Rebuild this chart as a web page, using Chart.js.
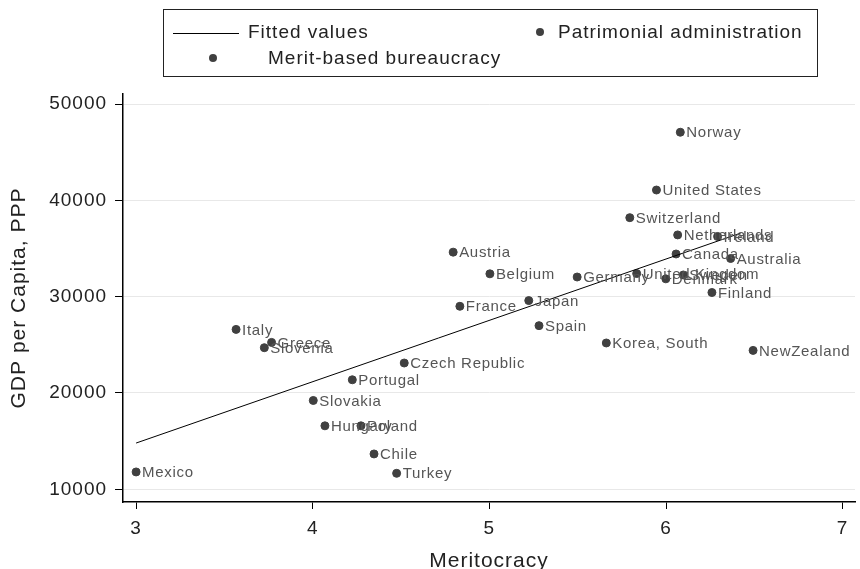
<!DOCTYPE html>
<html lang="en">
<head>
  <meta charset="UTF-8">
  <title>Meritocracy and GDP per capita</title>
  <script src="https://cdn.jsdelivr.net/npm/chart.js"></script>
  <style>
    body { margin: 0; background: #fff; font-family: "Liberation Sans", Arial, sans-serif; overflow: hidden; }
    #wrap { position: relative; width: 860px; height: 569px; overflow: hidden; }
    #legend {
      position: absolute; left: 163px; top: 9px; width: 655px; height: 68px;
      border: 1px solid #222; box-sizing: border-box; font-size: 19px; letter-spacing: 1px; color: #222;
    }
    #legend .item { position: absolute; white-space: nowrap; line-height: 20px; }
    #legend .line { position: absolute; width: 66px; height: 0; border-top: 1px solid #000; }
    #legend .dot { position: absolute; width: 8px; height: 8px; border-radius: 50%; background: #404040; }
  </style>
</head>
<body>
  <div id="wrap">
    <!-- canvas a bit taller than the window so the x title sits low like the original -->
    <canvas id="chart" width="860" height="575"></canvas>
    <div id="legend">
      <span class="line" style="left:9px; top:23px;"></span>
      <span class="item" style="left:84px; top:12px;">Fitted values</span>
      <span class="dot" style="left:372px; top:18px;"></span>
      <span class="item" style="left:394px; top:12px;">Patrimonial administration</span>
      <span class="dot" style="left:45px; top:44px;"></span>
      <span class="item" style="left:104px; top:38px;">Merit-based bureaucracy</span>
    </div>
  </div>

  <script>
    // data
    const patrimonialNames = ['Mexico', 'Italy', 'Greece', 'Slovenia', 'Slovakia', 'Hungary', 'Poland', 'Portugal',
      'Czech Republic', 'Chile', 'Turkey', 'Austria', 'France'];
    const patrimonialX = [3.0, 3.566, 3.767, 3.726, 4.003, 4.069, 4.273, 4.224, 4.518, 4.347, 4.475, 4.795, 4.833];
    const patrimonialY = [11800, 26600, 25250, 24700, 19220, 16590, 16590, 21370, 23110, 13670, 11660, 34620, 29000];

    const meritNames = ['Belgium', 'Japan', 'Spain', 'Korea, South', 'Germany', 'United Kingdom', 'Denmark', 'Sweden',
      'Canada', 'Norway', 'United States', 'Switzerland', 'Netherlands', 'Ireland', 'Australia', 'Finland', 'NewZealand'];
    const meritX = [5.003, 5.223, 5.281, 5.662, 5.497, 5.834, 5.999, 6.098, 6.057, 6.081, 5.946, 5.795, 6.066, 6.292, 6.366, 6.26, 6.493];
    const meritY = [32370, 29590, 26990, 25190, 32040, 32400, 31850, 32250, 34430, 47070, 41070, 38200, 36410, 36250, 33960, 30430, 24420];

    const fitX = [3.0, 6.423];
    const fitY = [14800, 36600];

    const xTicks = [3, 4, 5, 6, 7];
    const yTicks = [10000, 20000, 30000, 40000, 50000];

    const toPoints = (xs, ys) => xs.map((x, i) => ({ x: x, y: ys[i] }));

    // Stata text is a bit spread out
    const spacing = {
      id: 'spacing',
      beforeInit(chart) { chart.ctx.letterSpacing = '1px'; },
      beforeUpdate(chart) { chart.ctx.letterSpacing = '1px'; },
      beforeDraw(chart) { chart.ctx.letterSpacing = '1px'; }
    };

    // writes country names next to each dot
    const pointLabels = {
      id: 'pointLabels',
      afterDatasetsDraw(chart) {
        const ctx = chart.ctx;
        ctx.save();
        ctx.font = '15px "Liberation Sans", Arial, sans-serif';
        ctx.fillStyle = '#555';
        ctx.textBaseline = 'middle';
        ctx.letterSpacing = '0.7px';
        chart.data.datasets.forEach((ds, di) => {
          if (!ds.names) return;
          chart.getDatasetMeta(di).data.forEach((pt, i) => {
            ctx.fillText(ds.names[i], pt.x + 6, pt.y + 1);
          });
        });
        ctx.restore();
      }
    };

    const family = '"Liberation Sans", Arial, sans-serif';
    const tickFont = { family: family, size: 19 };
    const titleFont = { family: family, size: 21 };

    new Chart(document.getElementById('chart'), {
      type: 'scatter',
      data: {
        datasets: [
          {
            label: 'Fitted values', type: 'line', data: toPoints(fitX, fitY),
            borderColor: '#000', borderWidth: 1, pointRadius: 0, fill: false
          },
          {
            label: 'Patrimonial administration', data: toPoints(patrimonialX, patrimonialY), names: patrimonialNames,
            backgroundColor: '#404040', borderColor: '#404040', pointRadius: 4
          },
          {
            label: 'Merit-based bureaucracy', data: toPoints(meritX, meritY), names: meritNames,
            backgroundColor: '#404040', borderColor: '#404040', pointRadius: 4
          }
        ]
      },
      options: {
        responsive: false,
        animation: false,
        layout: { padding: { top: 94, right: 3, left: 7, bottom: 0 } },
        plugins: { legend: { display: false }, tooltip: { enabled: false } },
        scales: {
          x: {
            type: 'linear', min: 2.926, max: 7.07,
            afterBuildTicks: axis => { axis.ticks = xTicks.map(v => ({ value: v })); },
            grid: { drawOnChartArea: false, drawTicks: true, tickLength: 7, tickColor: '#000' },
            border: { color: '#000', width: 1.5 },
            ticks: { color: '#222', font: tickFont, padding: 8 },
            title: { display: true, text: 'Meritocracy', color: '#222', font: titleFont, padding: { top: 1, bottom: 1 } }
          },
          y: {
            type: 'linear', min: 8680, max: 51040,
            afterBuildTicks: axis => { axis.ticks = yTicks.map(v => ({ value: v })); },
            grid: { color: '#e8e8e8', tickColor: '#000', tickLength: 8 },
            border: { color: '#000', width: 1.5 },
            ticks: { color: '#222', font: tickFont, padding: 8, callback: v => String(v) },
            title: { display: true, text: 'GDP per Capita, PPP', color: '#222', font: titleFont, padding: { top: 0, bottom: 9 } }
          }
        }
      },
      plugins: [spacing, pointLabels]
    });
  </script>
</body>
</html>
